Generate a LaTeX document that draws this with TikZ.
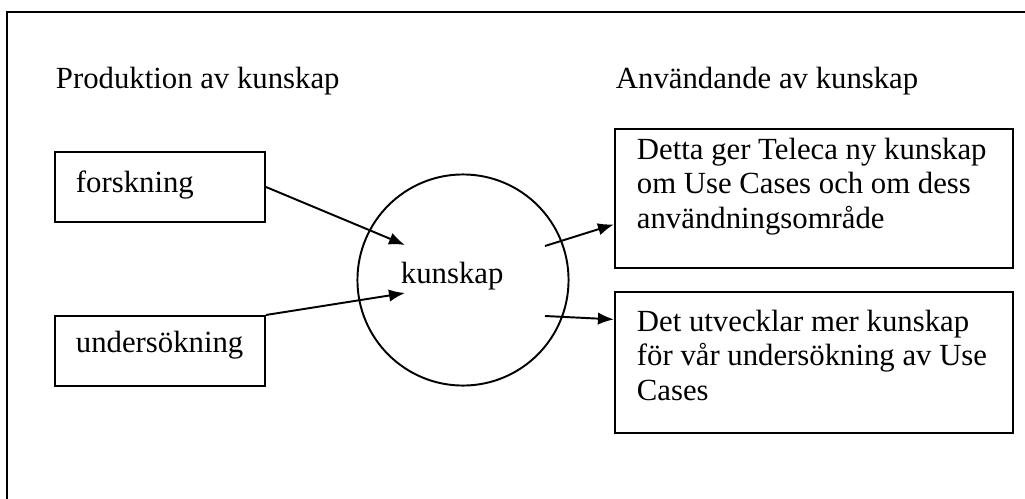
\documentclass[tikz,border=0pt]{standalone}
\usepackage{fontspec}
\setmainfont{Liberation Serif}
\usetikzlibrary{fit,arrows.meta}
\tikzset{box/.style={draw,line width=0.8pt,inner sep=0pt},
  txt/.style={anchor=base west,inner sep=0pt,align=left}}
\begin{document}
\begin{tikzpicture}[x=0.387pt,y=-0.387pt,>={Latex[length=6.2pt,width=4.8pt]},
  line width=0.75pt,font=\fontsize{11.9}{13.2}\selectfont]
\useasboundingbox (0,0) rectangle (1025,499);
% ram
\draw [line width=1.1pt] (1025,12) -- (7,12) -- (7,499);
\node (prod) [txt] at (55,88) {Produktion av kunskap};
\node (anv) [txt] at (615,88) {Användande av kunskap};
% vänster
\node (forsk) [box,fit={(55,152) (265,222)}] {};
\node (forsktxt) [txt] at (75,192) {forskning};
\node (unders) [box,fit={(55,316) (265,386)}] {};
\node (understxt) [txt] at (75,352) {undersökning};
% mitten
\node (kun) [draw,circle,minimum size=81.7pt,inner sep=0pt] at (463,280) {};
\node (kuntxt) [txt] at (400,283) {kunskap};
\coordinate (in1) at (405,245);
\coordinate (in2) at (405,293);
\coordinate (ut1) at (545,246);
\coordinate (ut2) at (545,316);
% höger (base = sista raden)
\node (ny) [box,fit={(615,129) (1013,268)}] {};
\node (nytxt) [txt] at (636,228) {Detta ger Teleca ny kunskap\\om Use Cases och om dess\\användningsområde};
\node (mer) [box,fit={(615,292) (1013,433)}] {};
\node (mertxt) [txt] at (636,400) {Det utvecklar mer kunskap\\för vår undersökning av Use\\Cases};
\draw [->] (forsk.east) -- (in1);
\draw [->] (unders.north east) -- (in2);
\draw [->] (ut1) -- ([yshift=-10pt]ny.west);
\draw [->] (ut2) -- ([yshift=-11pt]mer.north west);
\end{tikzpicture}
\end{document}
